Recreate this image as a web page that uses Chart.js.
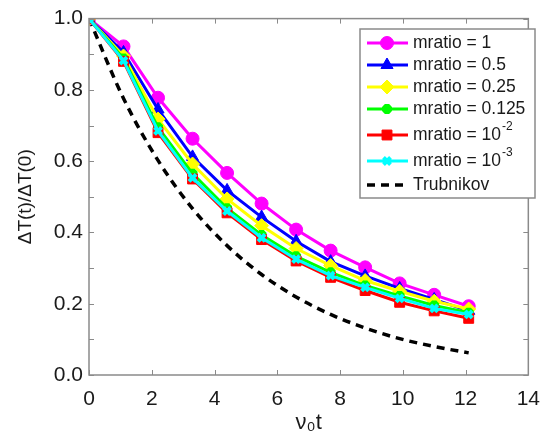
<!DOCTYPE html>
<html>
<head>
<meta charset="utf-8">
<script src="https://cdn.jsdelivr.net/npm/chart.js@4.4.1/dist/chart.umd.min.js"></script>
<style>
  html, body { margin: 0; padding: 0; background: #fff; }
  #wrap { width: 552px; height: 436px; }
</style>
</head>
<body>
<div id="wrap"><canvas id="chart" width="552" height="436"></canvas></div>
<script>
'use strict';

/* ── Data ── */
const timeSteps = [0, 1.1, 2.2, 3.3, 4.4, 5.5, 6.6, 7.7, 8.8, 9.9, 11.0, 12.1];

const ratio1 = [1.0, 0.922, 0.778, 0.663, 0.567, 0.481, 0.408, 0.349, 0.302, 0.257, 0.225, 0.193];
const ratio05 = [1.0, 0.905, 0.745, 0.612, 0.518, 0.443, 0.375, 0.318, 0.278, 0.243, 0.212, 0.180];
const ratio025 = [1.0, 0.895, 0.718, 0.592, 0.494, 0.419, 0.355, 0.307, 0.265, 0.235, 0.207, 0.185];
const ratio0125 = [1.0, 0.888, 0.695, 0.565, 0.468, 0.393, 0.333, 0.288, 0.251, 0.222, 0.195, 0.175];
const ratio1e2 = [1.0, 0.880, 0.680, 0.550, 0.455, 0.380, 0.320, 0.274, 0.237, 0.204, 0.180, 0.159];
const ratio1e3 = [1.0, 0.882, 0.685, 0.553, 0.460, 0.385, 0.325, 0.279, 0.246, 0.215, 0.187, 0.170];
const trubnikov = [1.0, 0.776, 0.602, 0.467, 0.363, 0.282, 0.219, 0.170, 0.132, 0.102, 0.080, 0.062];

const seriesNames = ['mratio = 1', 'mratio = 0.5', 'mratio = 0.25', 'mratio = 0.125', 'mratio = 10', 'mratio = 10', 'Trubnikov'];
const seriesSup = ['', '', '', '', '-2', '-3', ''];

const xTicks = [0, 2, 4, 6, 8, 10, 12, 14];
const yTicks = [0, 0.2, 0.4, 0.6, 0.8, 1.0];

/* ── Styles ── */
const FONT = "'Liberation Sans', Arial, sans-serif";
const AXIS_GRAY = '#8a8a8a';

const styles = [
    { color: '#ff00ff', point: 'circle', radius: 6.5 },
    { color: '#0000ff', point: 'triangle', radius: 7 },
    { color: '#ffff00', point: 'rectRot', radius: 7 },
    { color: '#00ff00', point: 'star', radius: 5 },
    { color: '#ff0000', point: 'rect', radius: 7 },
    { color: '#00ffff', point: 'crossRot', radius: 5 },
];

const seriesValues = [ratio1, ratio05, ratio025, ratio0125, ratio1e2, ratio1e3];
const toPoints = (ys) => timeSteps.map((x, i) => ({ x, y: ys[i] }));

const datasets = seriesValues.map((ys, i) => ({
    label: seriesNames[i],
    data: toPoints(ys),
    borderColor: styles[i].color,
    backgroundColor: styles[i].color,
    borderWidth: 3,
    pointStyle: styles[i].point,
    pointRadius: styles[i].radius,
    pointBorderWidth: styles[i].point === 'star' || styles[i].point === 'crossRot' ? 4 : 1,
    pointBackgroundColor: styles[i].color,
    pointBorderColor: styles[i].color,
    tension: 0,
    order: 20 - i,
}));

datasets.push({
    label: seriesNames[6],
    data: toPoints(trubnikov),
    borderColor: '#000',
    borderWidth: 3.5,
    borderDash: [8, 6],
    pointRadius: 0,
    tension: 0.4,
    cubicInterpolationMode: 'monotone',
    order: 30,
});

/* ── Frame, inward ticks, custom legend ── */
const framePlugin = {
    id: 'frame',
    afterDraw(chart) {
        const { ctx, chartArea: a, scales: { x, y } } = chart;
        ctx.save();
        ctx.strokeStyle = AXIS_GRAY;
        ctx.lineWidth = 1.5;
        ctx.strokeRect(a.left, a.top, a.right - a.left, a.bottom - a.top);

        ctx.lineWidth = 1;
        ctx.beginPath();
        xTicks.forEach(v => {
            const px = Math.round(x.getPixelForValue(v)) + 0.5;
            ctx.moveTo(px, a.bottom); ctx.lineTo(px, a.bottom - 5);
            ctx.moveTo(px, a.top); ctx.lineTo(px, a.top + 5);
        });
        for (let k = 0; k <= 10; k++) {
            const py = Math.round(y.getPixelForValue(k / 10)) + 0.5;
            ctx.moveTo(a.left, py); ctx.lineTo(a.left + 5, py);
            ctx.moveTo(a.right, py); ctx.lineTo(a.right - 5, py);
        }
        ctx.stroke();
        ctx.restore();
    },
};

const legendPlugin = {
    id: 'boxLegend',
    afterDraw(chart) {
        const { ctx } = chart;
        const box = { left: 360, top: 29, width: 175, height: 169 };
        const rowsY = [43, 65, 87, 109, 135, 161, 185];
        ctx.save();
        ctx.fillStyle = '#fff';
        ctx.fillRect(box.left, box.top, box.width, box.height);
        ctx.strokeStyle = AXIS_GRAY;
        ctx.lineWidth = 1.5;
        ctx.strokeRect(box.left, box.top, box.width, box.height);

        chart.data.datasets.forEach((ds, i) => {
            const cy = rowsY[i];
            ctx.save();
            ctx.strokeStyle = ds.borderColor;
            ctx.lineWidth = ds.borderWidth;
            ctx.setLineDash(ds.borderDash || []);
            ctx.beginPath();
            ctx.moveTo(367, cy);
            ctx.lineTo(408, cy);
            ctx.stroke();
            ctx.restore();
            if (ds.pointRadius > 0) {
                ctx.save();
                ctx.fillStyle = ds.pointBackgroundColor;
                ctx.strokeStyle = ds.pointBorderColor;
                ctx.lineWidth = ds.pointBorderWidth;
                Chart.helpers.drawPoint(ctx, {
                    pointStyle: ds.pointStyle,
                    radius: ds.pointRadius,
                    borderWidth: ds.pointBorderWidth,
                    rotation: 0,
                }, 387, cy);
                ctx.restore();
            }
            ctx.fillStyle = '#1a1a1a';
            ctx.textBaseline = 'middle';
            ctx.font = `17.5px ${FONT}`;
            ctx.fillText(seriesNames[i], 413, cy);
            if (seriesSup[i]) {
                const w = ctx.measureText(seriesNames[i]).width;
                ctx.font = `12px ${FONT}`;
                ctx.fillText(seriesSup[i], 413 + w + 1, cy - 8);
            }
        });
        ctx.restore();
    },
};

new Chart(document.getElementById('chart'), {
    type: 'line',
    data: { datasets },
    plugins: [framePlugin, legendPlugin],
    options: {
        responsive: false,
        animation: false,
        layout: { padding: { top: 17, right: 11, left: 0, bottom: 0 } },
        plugins: {
            legend: { display: false },
            tooltip: { enabled: false },
        },
        scales: {
            x: {
                type: 'linear',
                min: 0,
                max: 14,
                afterFit: (s) => { s.height = 61; },
                afterBuildTicks: (s) => { s.ticks = xTicks.map(v => ({ value: v })); },
                grid: { display: false, drawTicks: false },
                border: { display: false },
                ticks: {
                    padding: 12,
                    color: '#1a1a1a',
                    font: { family: FONT, size: 21 },
                    maxRotation: 0,
                },
                title: {
                    display: true,
                    text: 'ν₀t',
                    color: '#1a1a1a',
                    font: { family: FONT, size: 22 },
                    padding: { top: -6, bottom: 0 },
                },
            },
            y: {
                min: 0,
                max: 1,
                afterFit: (s) => { s.width = 89; },
                afterBuildTicks: (s) => { s.ticks = yTicks.map(v => ({ value: v })); },
                grid: { display: false, drawTicks: false },
                border: { display: false },
                ticks: {
                    padding: 6,
                    color: '#1a1a1a',
                    font: { family: FONT, size: 21 },
                    callback: (v) => v.toFixed(1),
                },
                title: {
                    display: true,
                    text: 'ΔT(t)/ΔT(0)',
                    color: '#1a1a1a',
                    font: { family: FONT, size: 19 },
                    padding: { top: 14, bottom: 0 },
                },
            },
        },
    },
});
</script>
</body>
</html>
